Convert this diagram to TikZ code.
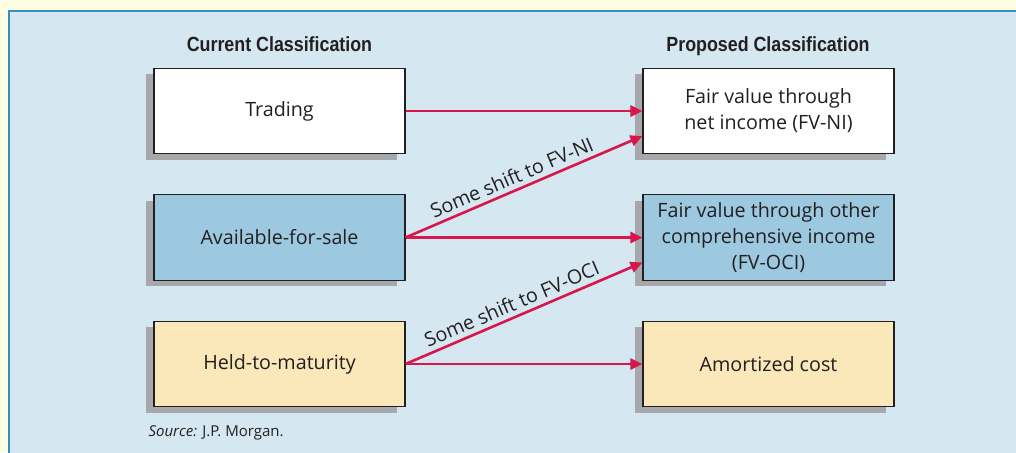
\documentclass[tikz,border=0pt]{standalone}
\usepackage{fontspec}
\setmainfont{Open Sans}
\newfontfamily\headfont[FakeStretch=0.87]{Liberation Sans}
\usetikzlibrary{arrows.meta,shadows}
\definecolor{outerbg}{HTML}{FEFCE3}
\definecolor{panel}{HTML}{D5E7F1}
\definecolor{panelline}{HTML}{3A8DBE}
\definecolor{bluebox}{HTML}{9DC9E0}
\definecolor{yellowbox}{HTML}{FAE8BA}
\definecolor{shadowgray}{HTML}{A6A8AB}
\definecolor{arrowred}{HTML}{D7164C}
\definecolor{txt}{HTML}{231F20}
\begin{document}
\begin{tikzpicture}[x=1pt,y=-1pt,
  box/.style={draw=txt, line width=1.1pt, minimum width=251pt, minimum height=85.5pt,
    inner sep=0pt, align=center, font=\fontsize{19.7}{26}\selectfont, text=txt,
    drop shadow={shadow xshift=-8pt, shadow yshift=-6pt, fill=shadowgray, opacity=1}},
  head/.style={font=\headfont\bfseries\fontsize{20.5}{24}\selectfont, text=txt, anchor=base},
  arr/.style={draw=arrowred, line width=2.6pt, -{Triangle[length=12pt,width=11pt]}},
  diaglabel/.style={sloped, above, inner sep=4.5pt, font=\fontsize{19.7}{22}\selectfont, text=txt}]
\useasboundingbox (0,0) rectangle (1016,452);
\fill[outerbg] (0,0) rectangle (1016,452);
\begin{scope}
\clip (0,0) rectangle (1016,452);
\fill[panel] (9,11) rectangle (1030,470);
\draw[panelline, line width=1.2pt] (9,470) -- (9,11) -- (1030,11);
\end{scope}
\node[head] (hcur) at (279.5,51.5) {Current Classification};
\node[head] (hprop) at (768,51.5) {Proposed Classification};
\node[box, fill=white] (trad) at (279.5,111) {Trading};
\node[box, fill=bluebox] (afs) at (279.5,237.5) {Available-for-sale};
\node[box, fill=yellowbox] (htm) at (279.5,364) {Held-to-maturity};
\node[box, fill=white] (fvni) at (768.5,111) {Fair value through\\net income (FV-NI)};
\node[box, fill=bluebox] (fvoci) at (768.5,237.5) {Fair value through other\\comprehensive income\\(FV-OCI)};
\node[box, fill=yellowbox] (amc) at (768.5,364) {Amortized cost};
\draw[arr] (trad.east) -- (fvni.west);
\draw[arr] (afs.east) -- (fvoci.west);
\draw[arr] (htm.east) -- (amc.west);
\draw[arr] (afs.east) -- ([yshift=-25pt]fvni.west) node[diaglabel, pos=0.47] (l1) {Some shift to FV-NI};
\draw[arr] (htm.east) -- ([yshift=-25pt]fvoci.west) node[diaglabel, pos=0.47] (l2) {Some shift to FV-OCI};
\node[anchor=base west, font=\fontsize{15}{18}\selectfont, text=txt] (src) at (145,436) {\textit{Source:} J.P. Morgan.};
\end{tikzpicture}
\end{document}
